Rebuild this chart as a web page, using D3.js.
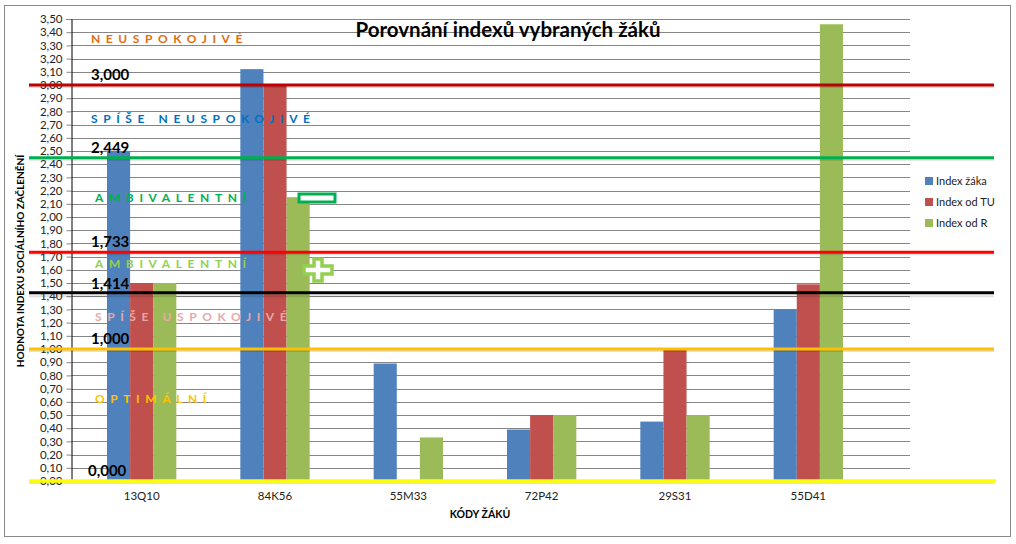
<!DOCTYPE html>
<html>
<head>
<meta charset="utf-8">
<script src="https://cdn.jsdelivr.net/npm/d3@7"></script>
<style>
  body { margin: 0; background: #fff; }
  text { font-family: Lato, "Liberation Sans", sans-serif; }
</style>
</head>
<body>
<div id="container"></div>
<script>
// data
const categories = ["13Q10", "84K56", "55M33", "72P42", "29S31", "55D41"];
const seriesNames = ["Index žáka", "Index od TU", "Index od R"];
const indexZaka = [2.50, 3.12, 0.89, 0.39, 0.45, 1.30];
const indexTU = [1.50, 3.00, 0.00, 0.50, 1.00, 1.49];
const indexR = [1.50, 2.15, 0.33, 0.50, 0.50, 3.46];

const thresholds = [3.000, 2.449, 1.733, 1.414, 1.000, 0.000];
const thresholdLabels = ["3,000", "2,449", "1,733", "1,414", "1,000", "0,000"];

const zoneNames = ["NEUSPOKOJIVÉ", "SPÍŠE NEUSPOKOJIVÉ", "AMBIVALENTNÍ", "AMBIVALENTNÍ", "SPÍŠE USPOKOJIVÉ", "OPTIMÁLNÍ"];
const zoneLevels = [3.32, 2.71, 2.11, 1.61, 1.21, 0.59];

const width = 1016;
const height = 544;

const seriesColors = ["#4f81bd", "#c0504d", "#9bbb59"];
const lineColors = ["#c00000", "#00b050", "#ff0000", "#000000", "#ffc000", "#ffff00"];
const zoneColors = ["#e46c0a", "#0070c0", "#00b050", "#92d050", "#e6a8a8", "#ffc000"];

const svg = d3.create("svg")
    .attr("width", width)
    .attr("height", height)
    .attr("viewBox", [0, 0, width, height]);

// chart border
svg.append("rect")
    .attr("x", 4.5).attr("y", 5.5)
    .attr("width", 1006).attr("height", 531)
    .attr("fill", "#fff")
    .attr("stroke", "#8a8a8a");

const y = d3.scaleLinear().domain([0, 3.5]).range([481, 19]);
const x = d3.scaleBand().domain(categories).range([75, 875]).paddingInner(0.48).paddingOuter(0.24);
const xs = d3.scaleBand().domain(seriesNames).range([0, x.bandwidth()]);

const plotLeft = 71, plotRight = 910;

// gridlines
svg.append("g")
    .selectAll("line")
    .data(d3.range(1, 36).map(i => i / 10))
    .join("line")
    .attr("x1", plotLeft).attr("x2", plotRight)
    .attr("y1", d => Math.round(y(d)) + 0.5)
    .attr("y2", d => Math.round(y(d)) + 0.5)
    .attr("stroke", "#868686");

// bars
const table = categories.map((c, i) => ({cat: c, values: [indexZaka[i], indexTU[i], indexR[i]]}));
svg.append("g")
    .selectAll("g")
    .data(table)
    .join("g")
    .attr("transform", d => `translate(${x(d.cat)},0)`)
    .selectAll("rect")
    .data(d => d.values.map((v, j) => ({name: seriesNames[j], v, j})))
    .join("rect")
    .attr("x", d => xs(d.name))
    .attr("y", d => y(d.v))
    .attr("width", xs.bandwidth())
    .attr("height", d => y(0) - y(d.v))
    .attr("fill", d => seriesColors[d.j]);

// y axis
const yAxis = svg.append("g")
    .attr("transform", `translate(${plotLeft + 0.5},0)`)
    .call(d3.axisLeft(y)
        .tickValues(d3.range(0, 36).map(i => i / 10))
        .tickSize(5)
        .tickFormat(d => d.toFixed(2).replace(".", ",")));
yAxis.select(".domain").attr("stroke", "#000");
yAxis.selectAll(".tick line").attr("stroke", "#868686");
yAxis.selectAll(".tick text")
    .attr("x", -9)
    .attr("font-size", 11.5)
    .attr("fill", "#222")
    .style("font-family", "Lato, sans-serif");

// x axis baseline + labels
svg.append("line")
    .attr("x1", plotLeft).attr("x2", plotRight)
    .attr("y1", 481.5).attr("y2", 481.5)
    .attr("stroke", "#868686");
svg.append("g")
    .selectAll("text")
    .data(categories)
    .join("text")
    .attr("x", d => x(d) + x.bandwidth() / 2)
    .attr("y", 500)
    .attr("text-anchor", "middle")
    .attr("font-size", 11.5)
    .attr("fill", "#222")
    .text(d => d);

// threshold lines (drawn over bars)
const tl = svg.append("g");
tl.selectAll("line.shadow")
    .data(thresholds)
    .join("line")
    .attr("class", "shadow")
    .attr("x1", 29).attr("x2", 994)
    .attr("y1", d => y(d) + 2).attr("y2", d => y(d) + 2)
    .attr("stroke", "#000").attr("stroke-opacity", 0.12)
    .attr("stroke-width", 2);
tl.selectAll("line.level")
    .data(thresholds)
    .join("line")
    .attr("class", "level")
    .attr("x1", 29).attr("x2", (d, i) => i === 5 ? 996 : 994)
    .attr("y1", (d, i) => y(d) + (i === 3 ? -1.5 : 0))
    .attr("y2", (d, i) => y(d) + (i === 3 ? -1.5 : 0))
    .attr("stroke", (d, i) => lineColors[i])
    .attr("stroke-width", (d, i) => i === 5 ? 3.5 : 3);

// threshold values
svg.append("g")
    .selectAll("text")
    .data(thresholds)
    .join("text")
    .attr("x", (d, i) => i === 5 ? 88 : 91)
    .attr("y", d => y(d) - 5)
    .attr("font-size", 15)
    .attr("font-weight", "bold")
    .attr("fill", "#000")
    .text((d, i) => thresholdLabels[i]);

// zone names, letter spaced
svg.append("g")
    .selectAll("text")
    .data(zoneNames)
    .join("text")
    .attr("x", (d, i) => i < 2 ? 91 : 95)
    .attr("y", (d, i) => y(zoneLevels[i]))
    .attr("font-size", 12)
    .attr("font-weight", "bold")
    .attr("letter-spacing", 5.6)
    .attr("fill", (d, i) => zoneColors[i])
    .text(d => d);

// minus / plus markers
svg.append("rect")
    .attr("x", 299).attr("y", 194)
    .attr("width", 36).attr("height", 8)
    .attr("fill", "#fff")
    .attr("stroke", "#00b050").attr("stroke-width", 3);
const px = 318, py = 270, arm = 14, half = 4;
svg.append("path")
    .attr("d", `M${px - half},${py - arm + 3}H${px + half}V${py - half}H${px + arm}V${py + half}H${px + half}V${py + arm - 3}H${px - half}V${py + half}H${px - arm}V${py - half}H${px - half}Z`)
    .attr("fill", "#fff")
    .attr("stroke", "#92d050").attr("stroke-width", 3.5)
    .attr("stroke-linejoin", "miter");

// title
svg.append("text")
    .attr("x", 508).attr("y", 37)
    .attr("text-anchor", "middle")
    .attr("font-size", 20.5)
    .attr("font-weight", "bold")
    .attr("fill", "#000")
    .text("Porovnání indexů vybraných žáků");

// axis titles
svg.append("text")
    .attr("transform", "translate(24,261) rotate(-90)")
    .attr("text-anchor", "middle")
    .attr("font-size", 10)
    .attr("font-weight", "bold")
    .attr("fill", "#000")
    .text("HODNOTA INDEXU SOCIÁLNÍHO ZAČLENĚNÍ");
svg.append("text")
    .attr("x", 480).attr("y", 518)
    .attr("text-anchor", "middle")
    .attr("font-size", 10.5)
    .attr("font-weight", "bold")
    .attr("fill", "#000")
    .text("KÓDY ŽÁKŮ");

// legend
const legend = svg.append("g")
    .selectAll("g")
    .data(seriesNames)
    .join("g")
    .attr("transform", (d, i) => `translate(925,${181 + i * 21})`);
legend.append("rect")
    .attr("x", 0).attr("y", -4)
    .attr("width", 8).attr("height", 8)
    .attr("fill", (d, i) => seriesColors[i]);
legend.append("text")
    .attr("x", 11).attr("y", 4)
    .attr("font-size", 11)
    .attr("fill", "#222")
    .text(d => d);

d3.select("#container").append(() => svg.node());
</script>
</body>
</html>
